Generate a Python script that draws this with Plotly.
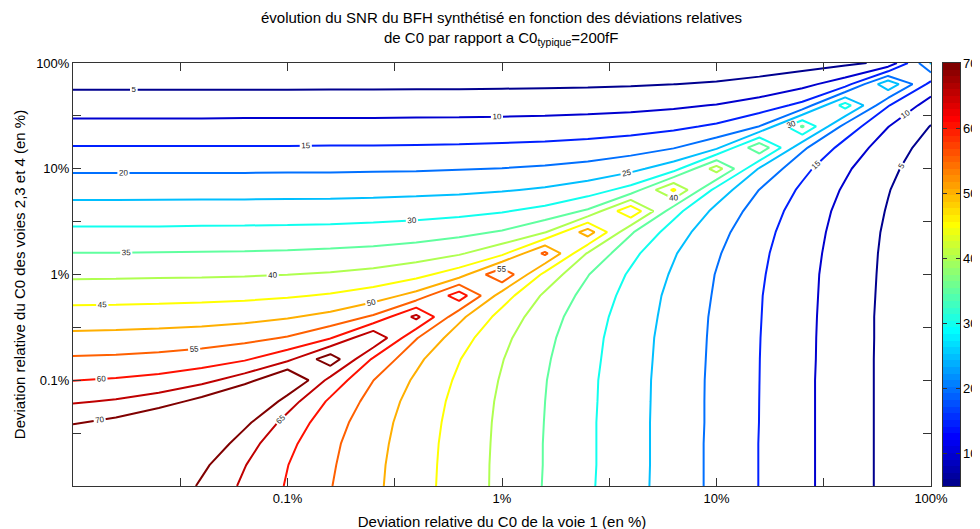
import plotly.graph_objects as go

# Grid positions (deviation in %), log-spaced every 0.2 decade
x_pct = [0.01, 0.01585, 0.02512, 0.03981, 0.0631, 0.1, 0.1585, 0.2512, 0.3981, 0.631,
         1.0, 1.585, 2.512, 3.981, 6.31, 10.0, 15.85, 25.12, 39.81, 63.1, 100.0]
y_pct = [0.01, 0.01585, 0.02512, 0.03981, 0.0631, 0.1, 0.1585, 0.2512, 0.3981, 0.631,
         1.0, 1.585, 2.512, 3.981, 6.31, 10.0, 15.85, 25.12, 39.81, 63.1, 100.0]

# SNR (dB) estimated from the contour lines, one list per y row (bottom to top)
snr_y00 = [93.5, 83.3, 75.1, 69.2, 64.1, 59.6, 55.2, 51.0, 46.9, 42.8, 38.8, 34.7, 30.7, 26.7, 22.8, 18.8, 14.9, 11.1, 7.4, 3.8, 0.4]
snr_y01 = [83.7, 90.1, 79.3, 71.1, 65.2, 60.1, 55.6, 51.2, 47.0, 42.9, 38.8, 34.8, 30.8, 26.8, 22.8, 18.8, 14.9, 11.1, 7.4, 3.8, 0.4]
snr_y02 = [75.4, 79.7, 86.7, 75.3, 67.1, 61.2, 56.1, 51.6, 47.2, 43.0, 38.9, 34.8, 30.8, 26.8, 22.8, 18.8, 14.9, 11.1, 7.4, 3.8, 0.4]
snr_y03 = [69.5, 71.4, 75.7, 83.3, 71.3, 63.1, 57.2, 52.1, 47.6, 43.2, 39.0, 34.9, 30.8, 26.8, 22.8, 18.9, 14.96, 11.1, 7.4, 3.8, 0.4]
snr_y04 = [64.5, 65.5, 67.4, 71.7, 79.9, 67.3, 59.1, 53.2, 48.1, 43.6, 39.2, 35.02, 30.9, 26.9, 22.8, 18.9, 14.98, 11.1, 7.4, 3.8, 0.4]
snr_y05 = [59.9, 60.5, 61.5, 63.4, 67.7, 76.5, 63.3, 55.05, 49.2, 44.2, 39.6, 35.2, 31.0, 26.9, 22.9, 18.9, 15.01, 11.1, 7.4, 3.8, 0.4]
snr_y06 = [55.6, 55.9, 56.5, 57.5, 59.4, 63.7, 73.1, 59.3, 51.1, 45.2, 40.2, 35.6, 31.3, 27.1, 23.0, 19.0, 15.04, 11.2, 7.4, 3.8, 0.4]
snr_y07 = [51.4, 51.6, 51.9, 52.5, 53.5, 55.4, 59.7, 69.7, 55.3, 47.1, 41.2, 36.2, 31.6, 27.3, 23.1, 19.1, 15.1, 11.2, 7.5, 3.8, 0.4]
snr_y08 = [47.2, 47.4, 47.6, 47.9, 48.5, 49.5, 51.4, 55.7, 66.3, 51.3, 43.1, 37.2, 32.2, 27.7, 23.4, 19.2, 15.2, 11.3, 7.5, 3.8, 0.4]
snr_y09 = [43.2, 43.2, 43.4, 43.6, 43.9, 44.5, 45.5, 47.4, 51.7, 62.9, 47.4, 39.1, 33.3, 28.3, 23.7, 19.5, 15.3, 11.4, 7.6, 3.9, 0.5]
snr_y10 = [39.1, 39.2, 39.3, 39.4, 39.6, 39.95, 40.5, 41.5, 43.4, 47.7, 59.5, 43.4, 35.2, 29.3, 24.4, 19.8, 15.6, 11.5, 7.7, 4.0, 0.5]
snr_y11 = [35.1, 35.1, 35.2, 35.3, 35.4, 35.6, 36.0, 36.5, 37.5, 39.4, 43.7, 56.1, 39.5, 31.3, 25.4, 20.5, 16.0, 11.8, 7.9, 4.1, 0.6]
snr_y12 = [31.1, 31.1, 31.1, 31.2, 31.3, 31.4, 31.6, 32.0, 32.6, 33.6, 35.5, 39.7, 52.7, 35.6, 27.4, 21.6, 16.7, 12.2, 8.2, 4.3, 0.8]
snr_y13 = [27.1, 27.1, 27.1, 27.2, 27.2, 27.3, 27.4, 27.6, 28.0, 28.6, 29.6, 31.5, 35.7, 49.3, 31.8, 23.6, 17.8, 12.9, 8.6, 4.7, 1.1]
snr_y14 = [23.1, 23.1, 23.2, 23.2, 23.2, 23.3, 23.3, 23.5, 23.7, 24.0, 24.6, 25.6, 27.5, 31.8, 45.9, 28.0, 19.9, 14.1, 9.4, 5.2, 1.5]
snr_y15 = [19.2, 19.2, 19.2, 19.2, 19.2, 19.3, 19.3, 19.4, 19.5, 19.8, 20.1, 20.7, 21.7, 23.6, 27.8, 42.5, 24.4, 16.3, 10.7, 6.1, 2.1]
snr_y16 = [15.3, 15.3, 15.3, 15.3, 15.3, 15.3, 15.4, 15.4, 15.5, 15.6, 15.9, 16.2, 16.8, 17.8, 19.7, 23.9, 39.1, 21.0, 13.1, 7.5, 3.1]
snr_y17 = [11.4, 11.4, 11.4, 11.4, 11.5, 11.5, 11.5, 11.5, 11.6, 11.7, 11.8, 12.0, 12.4, 12.9, 13.9, 15.8, 20.1, 35.7, 18.0, 10.1, 4.8]
snr_y18 = [7.7, 7.7, 7.7, 7.7, 7.7, 7.7, 7.7, 7.7, 7.8, 7.8, 7.9, 8.0, 8.2, 8.6, 9.2, 10.2, 12.1, 16.3, 32.3, 15.3, 7.7]
snr_y19 = [4.0, 4.0, 4.0, 4.0, 4.0, 4.0, 4.1, 4.1, 4.1, 4.1, 4.2, 4.3, 4.4, 4.6, 4.97, 5.5, 6.6, 8.5, 12.7, 28.9, 13.3]
snr_y20 = [0.6, 0.6, 0.6, 0.6, 0.6, 0.6, 0.6, 0.6, 0.6, 0.7, 0.7, 0.7, 0.8, 0.9, 1.2, 1.5, 2.1, 2.9, 4.0, 6.0, 25.5]

snr = [snr_y00, snr_y01, snr_y02, snr_y03, snr_y04, snr_y05, snr_y06, snr_y07, snr_y08, snr_y09, snr_y10,
       snr_y11, snr_y12, snr_y13, snr_y14, snr_y15, snr_y16, snr_y17, snr_y18, snr_y19, snr_y20]

contour_levels = dict(start=5, end=70, size=5)
colorbar_ticks = [10, 20, 30, 40, 50, 60, 70]
color_min, color_max = 5, 70
tick_pos = [0.01, 0.0316, 0.1, 0.316, 1, 3.16, 10, 31.6, 100]
tick_txt = ['', '', '0.1%', '', '1%', '', '10%', '', '100%']

# MATLAB jet(64) colormap
m = 64; n = 16
u = [k / n for k in range(1, n + 1)] + [1.0] * (n - 1) + [k / n for k in range(n, 0, -1)]
J = [[0.0, 0.0, 0.0] for _ in range(m)]
g = [n // 2 + k for k in range(1, len(u) + 1)]
r = [gi + n for gi in g if gi + n <= m]
gg = [gi for gi in g if gi <= m]
bb = [gi - n for gi in g if gi - n >= 1]
for k, i in enumerate(r): J[i - 1][0] = u[k]
for k, i in enumerate(gg): J[i - 1][1] = u[k]
for k, i in enumerate(bb): J[i - 1][2] = u[len(u) - len(bb) + k]
cs = []
for i, (rr, g2, b2) in enumerate(J):
    col = f"rgb({round(rr*255)},{round(g2*255)},{round(b2*255)})"
    cs.append([i / m, col]); cs.append([(i + 1) / m, col])

font = 'Liberation Sans'
fig = go.Figure()
fig.add_trace(go.Contour(
    x=x_pct, y=y_pct, z=snr, zmin=color_min, zmax=color_max, colorscale=cs, showscale=False,
    contours=dict(coloring='lines', showlabels=True,
                  labelfont=dict(size=8, color='#222', family=font), **contour_levels),
    line=dict(width=2, smoothing=0), hoverinfo='skip',
))
centers = [color_min + (i + 0.5) * (color_max - color_min) / m for i in range(m)]
fig.add_trace(go.Heatmap(z=[[c] for c in centers], x=[0], y=centers, colorscale=cs,
                         zmin=color_min, zmax=color_max, showscale=False, xaxis='x2', yaxis='y2',
                         hoverinfo='skip'))

# page body has an 8px margin: figure coordinates = screen coordinates - 8
PL, PR, PT, PB = 65, 923, 55, 478
W, H = 980, 529
ml, mr, mt, mb = PL, W - 952, PT, H - PB
pw = W - ml - mr
axis_common = dict(type='log', showgrid=False, zeroline=False, showline=True, mirror='ticks',
                   linecolor='#333', linewidth=1, ticks='inside', ticklen=8, tickcolor='#333',
                   tickfont=dict(size=13, color='black', family=font))

annotations = [
    dict(text='évolution du SNR du BFH synthétisé en fonction des déviations relatives',
         xref='paper', yref='paper', x=(493 - ml) / pw, y=1 + (PT - 9) / (PB - PT),
         xanchor='center', yanchor='middle', showarrow=False,
         font=dict(size=15, color='black', family=font)),
    dict(text='de C0 par rapport a C0<sub>typique</sub>=200fF',
         xref='paper', yref='paper', x=(493 - ml) / pw, y=1 + (PT - 30) / (PB - PT),
         xanchor='center', yanchor='middle', showarrow=False,
         font=dict(size=15, color='black', family=font)),
]
for v in colorbar_ticks:
    annotations.append(dict(text=str(v), xref='paper', yref='y2', x=(953 - ml) / pw, y=v,
                            xanchor='left', yanchor='middle', showarrow=False,
                            font=dict(size=13, color='black', family=font)))

fig.update_layout(
    xaxis=dict(domain=[0, (PR - PL) / pw], range=[-2, 2], tickvals=tick_pos, ticktext=tick_txt,
               title=dict(text='Deviation relative du C0 de la voie 1 (en %)', standoff=11,
                          font=dict(size=15, color='black', family=font)), **axis_common),
    yaxis=dict(domain=[0, 1], range=[-2, 2], tickvals=tick_pos, ticktext=tick_txt,
               title=dict(text='Deviation relative du C0 des voies 2,3 et 4 (en %)', standoff=6,
                          font=dict(size=15, color='black', family=font)), **axis_common),
    xaxis2=dict(domain=[(935 - ml) / pw, (952 - ml) / pw], anchor='y2', showticklabels=False,
                ticks='', showgrid=False, zeroline=False, showline=True, mirror=True,
                linecolor='#333', linewidth=1, range=[-0.5, 0.5]),
    yaxis2=dict(domain=[0, 1], anchor='x2', side='right', range=[color_min, color_max], showgrid=False,
                zeroline=False, showline=True, mirror='ticks', linecolor='#333', linewidth=1,
                tickvals=colorbar_ticks, ticks='inside', ticklen=4, tickcolor='#333',
                showticklabels=False),
    width=W, height=H, margin=dict(l=ml, r=mr, t=mt, b=mb, autoexpand=False),
    paper_bgcolor='white', plot_bgcolor='white', showlegend=False,
    annotations=annotations,
)
fig.write_html('out.html')
